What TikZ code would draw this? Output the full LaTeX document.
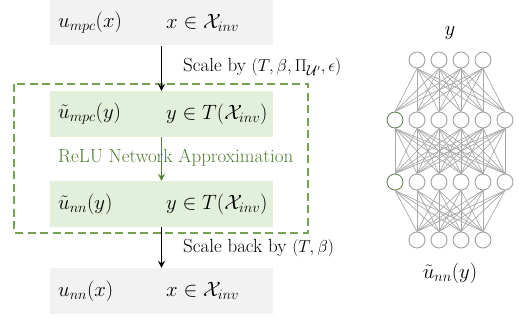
\documentclass[tikz,border=0pt]{standalone}
\usepackage{amsmath,amssymb}
\usetikzlibrary{arrows.meta}

\definecolor{boxgray}{HTML}{F2F2F2}
\definecolor{boxgreen}{HTML}{E2EFDA}
\definecolor{dashgreen}{HTML}{76A353}
\definecolor{textgreen}{HTML}{507E32}
\definecolor{netgray}{HTML}{A0A0A0}
\definecolor{linkgray}{HTML}{A8A8A8}

\begin{document}
\begin{tikzpicture}[x=1pt,y=-1pt,
   txt/.style={font=\fontsize{19}{22}\selectfont,inner sep=0pt},
   mth/.style={font=\fontsize{21}{24}\selectfont,inner sep=0pt},
   graybox/.style={fill=boxgray,minimum width=223pt,minimum height=46pt,inner sep=0pt},
   greenbox/.style={graybox,fill=boxgreen},
   neuron/.style={circle,draw=netgray,fill=white,line width=0.9pt,minimum size=16pt,inner sep=0pt},
   link/.style={draw=linkgray,line width=0.7pt},
   flow/.style={-{Stealth[length=7pt,width=7pt,inset=2.5pt]},line width=1pt}]
   \useasboundingbox (0,0) rectangle (519,320);
   % left column: boxes
   \node[graybox]  (mpc)  at (161.5,22.5) {};
   \node[greenbox] (tmpc) at (161.5,114)  {};
   \node[greenbox] (tnn)  at (161.5,204)  {};
   \node[graybox]  (nn)   at (161.5,291)  {};
   \node[mth,anchor=west] (mpcF)  at (58,22.5) {$u_{mpc}(x)$};
   \node[mth,anchor=west] (mpcD)  at (166,22.5) {$x\in\mathcal{X}_{inv}$};
   \node[mth,anchor=west] (tmpcF) at (58,114) {$\tilde{u}_{mpc}(y)$};
   \node[mth,anchor=west] (tmpcD) at (166,114) {$y\in T(\mathcal{X}_{inv})$};
   \node[mth,anchor=west] (tnnF)  at (58,204) {$\tilde{u}_{nn}(y)$};
   \node[mth,anchor=west] (tnnD)  at (166,204) {$y\in T(\mathcal{X}_{inv})$};
   \node[mth,anchor=west] (nnF)   at (58,291) {$u_{nn}(x)$};
   \node[mth,anchor=west] (nnD)   at (166,291) {$x\in\mathcal{X}_{inv}$};
   \draw[dashgreen,line width=1.2pt,dash pattern=on 8pt off 4.5pt] (14,84) rectangle (308,233);
   \node[txt,anchor=west,text=textgreen] (relu) at (58,158) {ReLU Network Approximation};
   % arrows
   \draw[flow] (mpc.south) -- (tmpc.north);
   \draw[flow,draw=textgreen,line width=0.8pt] (tmpc.south) -- (tnn.north);
   \draw[flow] (tnn.south) -- (nn.north);
   \node[txt,anchor=west] (scl)  at (183,67)  {Scale by $(T,\beta,\Pi_{\mathcal{U}'},\epsilon)$};
   \node[txt,anchor=west] (back) at (183,248) {Scale back by $(T,\beta)$};
   % network
   \foreach \i in {1,...,4} {
     \node[neuron] (a\i) at (395+22*\i,60) {};
     \node[neuron] (d\i) at (395+22*\i,240) {};
   }
   \foreach \i in {1,...,6} {
     \node[neuron] (b\i) at (373+22*\i,120) {};
     \node[neuron] (c\i) at (373+22*\i,182) {};
   }
   \draw[textgreen] (b1) circle (8pt) (c1) circle (8pt);
   \foreach \i in {1,...,4}
     \foreach \j in {1,...,6} {
       \draw[link] (a\i.south) -- (b\j.north);
       \draw[link] (c\j.south) -- (d\i.north);
     }
   \foreach \i in {1,...,6}
     \foreach \j in {1,...,6}
       \draw[link] (b\i.south) -- (c\j.north);
   \node[mth] (yin)  at (450,33)  {$y$};
   \node[mth] (yout) at (450,273) {$\tilde{u}_{nn}(y)$};
\end{tikzpicture}
\end{document}
